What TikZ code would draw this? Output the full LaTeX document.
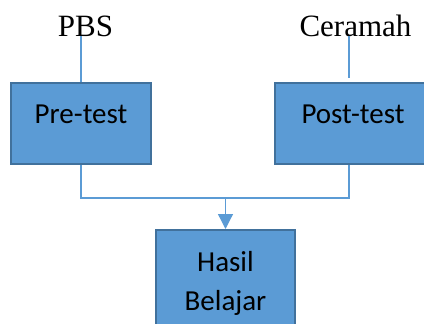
\documentclass[tikz,border=0pt]{standalone}
\usepackage{fontspec}
\usepackage{tikz}
\usetikzlibrary{arrows.meta}
\setmainfont{Liberation Serif}
\newfontfamily\kotakfont{Carlito}
\definecolor{birukotak}{HTML}{5B9BD5}
\definecolor{tepikotak}{HTML}{41719C}

\begin{document}
\begin{tikzpicture}[x=1pt,y=-1pt,
        kotak/.style={draw=tepikotak,line width=2pt,fill=birukotak,inner sep=0pt,align=center,
            font=\kotakfont\fontsize{29}{39}\selectfont},
        garis/.style={draw=birukotak,line width=1.3pt},
        judul/.style={anchor=base,inner sep=0pt,font=\fontsize{31}{37}\selectfont}]
    \useasboundingbox (0,0) rectangle (424,324);
    % metode di atas
    \node[judul] (pbs) at (85.5,36) {PBS};
    \node[judul] (ceramah) at (355.5,36) {Ceramah};
    % kotak tes
    \node[kotak,minimum width=140pt,minimum height=81pt,text height=14pt,text depth=14pt] (pre) at (81,123.5) {Pre-test};
    \node[kotak,minimum width=156pt,minimum height=81pt,text height=14pt,text depth=14pt] (post) at (353,123.5) {Post-test};
    \node[kotak,minimum width=139pt,minimum height=106pt] (hasil) at (225.5,283) {Hasil\\Belajar};
    % garis penghubung
    \coordinate (bawah) at ([xshift=-4pt]post.south);
    \draw[garis] (pre.north |- pbs.base) -- (pre.north);
    \draw[garis,shorten >=4pt] (bawah |- ceramah.base) -- (bawah |- post.north);
    \coordinate (gabung) at (225.5,198);
    \draw[garis] (pre.south) |- (gabung) -| (bawah);
    \draw[garis,-{Triangle[width=15pt,length=15pt]}] (gabung) -- (hasil.north);
\end{tikzpicture}
\end{document}
